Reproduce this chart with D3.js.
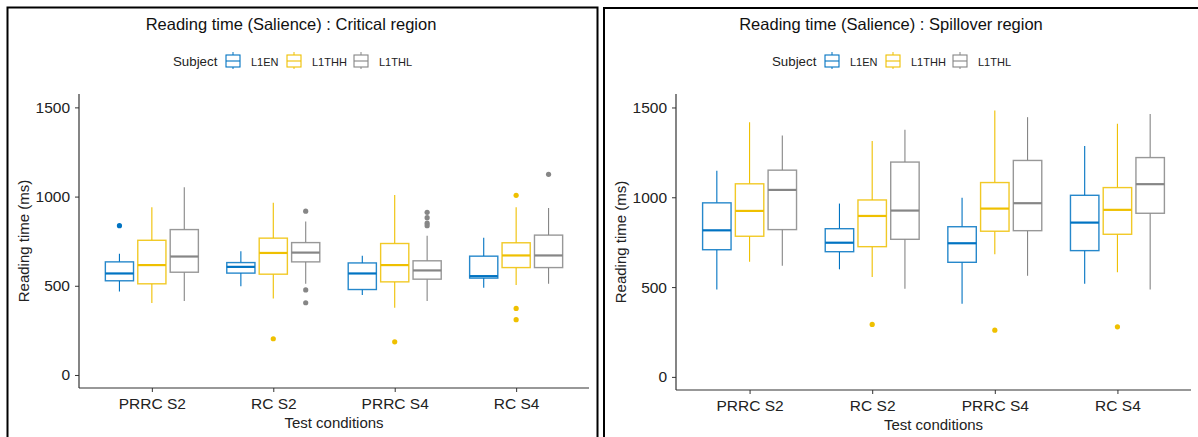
<!DOCTYPE html>
<html>
<head>
<meta charset="utf-8">
<script src="https://cdn.jsdelivr.net/npm/d3@7"></script>
<style>
  body { margin: 0; background: #fff; }
  svg { display: block; font-family: "Liberation Sans", Arial, sans-serif; }
</style>
</head>
<body>
<svg id="chart" width="1198" height="437"></svg>
<script>
// categories & groups
const conditions = ['PRRC S2', 'RC S2', 'PRRC S4', 'RC S4']
const subjects = ['L1EN', 'L1THH', 'L1THL']
const subjectColors = ['#0073C2', '#EFC000', '#868686']

// box stats per condition: [lower whisker, q1, median, q3, upper whisker]
const criticalL1EN = [[468, 528, 569, 634, 679], [498, 571, 606, 630, 694], [448, 479, 569, 628, 668], [489, 543, 554, 666, 769]]
const criticalL1THH = [[403, 511, 616, 755, 940], [429, 565, 684, 767, 966], [377, 522, 616, 737, 1009], [505, 602, 670, 741, 940]]
const criticalL1THL = [[414, 576, 664, 815, 1052], [511, 634, 686, 742, 860], [414, 537, 586, 640, 780], [511, 602, 670, 784, 936]]

const spillL1EN = [[487, 708, 816, 969, 1147], [599, 697, 747, 825, 965], [407, 638, 744, 836, 998], [519, 703, 859, 1011, 1285]]
const spillL1THH = [[641, 783, 924, 1075, 1418], [556, 725, 896, 985, 1313], [683, 811, 937, 1082, 1483], [582, 794, 930, 1054, 1409]]
const spillL1THL = [[619, 820, 1041, 1151, 1344], [491, 766, 926, 1196, 1376], [563, 814, 967, 1205, 1446], [487, 911, 1073, 1221, 1463]]

// outliers per condition
const criticalOutL1EN = [[837], [], [], []]
const criticalOutL1THH = [[], [203], [186], [1007, 373, 310]]
const criticalOutL1THL = [[], [918, 477, 405], [912, 882, 851, 837], [1125]]

const spillOutL1EN = [[], [], [], []]
const spillOutL1THH = [[], [292], [260], [279]]
const spillOutL1THL = [[], [], [], []]

const yTicks = [0, 500, 1000, 1500]

const svg = d3.select('#chart')

function drawPanel(opts) {
  const g = svg.append('g')

  // panel border
  g.append('rect')
    .attr('x', opts.border[0]).attr('y', opts.border[1])
    .attr('width', opts.border[2]).attr('height', opts.border[3])
    .attr('fill', 'none').attr('stroke', '#000').attr('stroke-width', 2)

  // ggplot discrete expansion: 0.6 units each side
  const x = d3.scalePoint().domain(conditions)
    .range([opts.left, opts.right]).padding(0.6)
  const unit = x.step()
  const y = d3.scaleLinear().domain([-73, 1575]).range([opts.bottom, opts.top])

  const dodge = unit * 0.267
  const boxW = unit * 0.232

  // axes
  const axisY = d3.axisLeft(y).tickValues(yTicks).tickFormat(d3.format('d')).tickSize(4).tickPadding(5)
  const gy = g.append('g').attr('transform', `translate(${opts.left},0)`).call(axisY)
  gy.select('.domain').attr('d', `M0,${opts.top}V${opts.bottom}`)
    .attr('stroke', '#333').attr('stroke-width', 1.2)
  gy.selectAll('.tick line').attr('stroke', '#333')
  gy.selectAll('.tick text').attr('font-size', 15.5).attr('fill', '#222')
    .attr('font-family', '"Liberation Sans", Arial, sans-serif')

  const axisX = d3.axisBottom(x).tickSize(4).tickPadding(6)
  const gx = g.append('g').attr('transform', `translate(0,${opts.bottom})`).call(axisX)
  gx.select('.domain').attr('d', `M${opts.left},0H${opts.right}`)
    .attr('stroke', '#333').attr('stroke-width', 1.2)
  gx.selectAll('.tick line').attr('stroke', '#333')
  gx.selectAll('.tick text').attr('font-size', 15.5).attr('fill', '#222')
    .attr('font-family', '"Liberation Sans", Arial, sans-serif')

  // boxes
  subjects.forEach((s, si) => {
    const col = subjectColors[si]
    const stats = opts.stats[si]
    const outs = opts.outliers[si]
    conditions.forEach((c, ci) => {
      const [lo, q1, med, q3, hi] = stats[ci]
      const cx = x(c) + (si - 1) * dodge
      const bg = g.append('g')
      bg.append('line').attr('x1', cx).attr('x2', cx)
        .attr('y1', y(hi)).attr('y2', y(q3)).attr('stroke', col).attr('stroke-width', 1.1)
      bg.append('line').attr('x1', cx).attr('x2', cx)
        .attr('y1', y(q1)).attr('y2', y(lo)).attr('stroke', col).attr('stroke-width', 1.1)
      bg.append('rect').attr('x', cx - boxW / 2).attr('width', boxW)
        .attr('y', y(q3)).attr('height', y(q1) - y(q3))
        .attr('fill', '#fff').attr('stroke', col).attr('stroke-width', 1.4).attr('stroke-opacity', 0.85)
      bg.append('line').attr('x1', cx - boxW / 2).attr('x2', cx + boxW / 2)
        .attr('y1', y(med)).attr('y2', y(med)).attr('stroke', col).attr('stroke-width', 2.2)
      bg.selectAll('circle').data(outs[ci]).join('circle')
        .attr('cx', cx).attr('cy', d => y(d)).attr('r', 2.6).attr('fill', col)
    })
  })

  // titles
  g.append('text').attr('x', opts.titleX).attr('y', 30).attr('text-anchor', 'middle')
    .attr('font-size', 16.5).attr('fill', '#111').text(opts.title)
  g.append('text').attr('transform', `translate(${opts.left - 50},${(opts.top + opts.bottom) / 2}) rotate(-90)`)
    .attr('text-anchor', 'middle').attr('font-size', 15).attr('fill', '#222').text('Reading time (ms)')
  g.append('text').attr('x', (opts.left + opts.right) / 2).attr('y', opts.bottom + 40)
    .attr('text-anchor', 'middle').attr('font-size', 15).attr('fill', '#222').text('Test conditions')

  // legend
  const lg = g.append('g').attr('transform', `translate(${opts.legendX},61)`)
  lg.append('text').attr('x', 0).attr('y', 5).attr('font-size', 13.3).attr('fill', '#222').text('Subject')
  const keyPos = [53, 114, 181]
  subjects.forEach((s, si) => {
    const col = subjectColors[si]
    const kx = keyPos[si]
    const k = lg.append('g').attr('transform', `translate(${kx},0)`)
    k.append('line').attr('x1', 7).attr('x2', 7).attr('y1', -9).attr('y2', 8).attr('stroke', col)
    k.append('rect').attr('x', 0).attr('y', -6).attr('width', 14).attr('height', 12)
      .attr('fill', '#fff').attr('stroke', col).attr('stroke-width', 1.1)
    k.append('line').attr('x1', 0).attr('x2', 14).attr('y1', 0).attr('y2', 0).attr('stroke', col).attr('stroke-width', 1.1)
    k.append('text').attr('x', 25).attr('y', 4.5).attr('font-size', 11).attr('fill', '#222').text(s)
  })
}

drawPanel({
  border: [7.5, 7.5, 590, 440],
  left: 79, right: 589, top: 94, bottom: 388,
  title: 'Reading time (Salience) : Critical region', titleX: 291, legendX: 173,
  stats: [criticalL1EN, criticalL1THH, criticalL1THL],
  outliers: [criticalOutL1EN, criticalOutL1THH, criticalOutL1THL]
})

drawPanel({
  border: [604, 8, 610, 440],
  left: 676, right: 1191, top: 94, bottom: 390,
  title: 'Reading time (Salience) : Spillover region', titleX: 891, legendX: 772,
  stats: [spillL1EN, spillL1THH, spillL1THL],
  outliers: [spillOutL1EN, spillOutL1THH, spillOutL1THL]
})
</script>
</body>
</html>
